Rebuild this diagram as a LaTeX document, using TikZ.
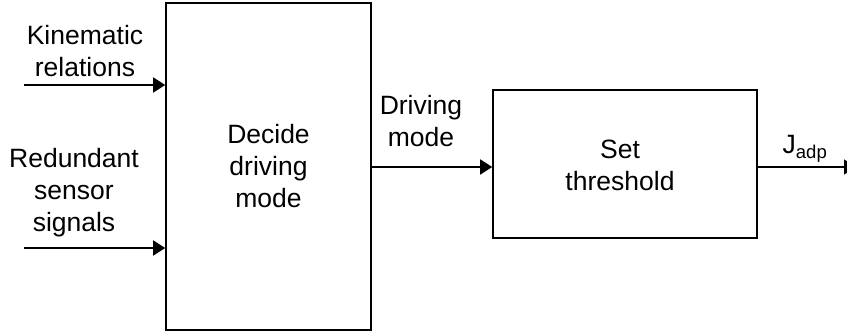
\documentclass[tikz,border=0pt]{standalone}
\usepackage{fontspec}
\setmainfont{Liberation Sans}
\usetikzlibrary{arrows.meta}
\begin{document}
\begin{tikzpicture}[x=1pt,y=-1pt,
  blk/.style={draw, line width=1.6pt, inner sep=0pt},
  lbl/.style={align=center, font=\fontsize{26.5}{32}\selectfont, inner sep=0pt},
  conn/.style={line width=1.6pt, -{Triangle[length=12pt,width=15pt]}}]
\useasboundingbox (0,0) rectangle (847,333);
\node[blk, minimum width=205pt, minimum height=327pt] (dec) at (268.5,166.5) {};
\node[blk, minimum width=264pt, minimum height=148pt] (thr) at (625,164) {};
\node[lbl] at (dec.center) {Decide\\driving\\mode};
\node[lbl] at (620,165) {Set\\threshold};
\coordinate (kin) at (24,85);
\coordinate (red) at (24,248);
\coordinate (mid) at (400,167);
\coordinate (out) at (856,167);
\node[lbl] (kinl) at (85,51) {Kinematic\\relations};
\node[lbl] (redl) at (74,193) {Redundant\\sensor\\signals};
\node[lbl] (drvl) at (421,121) {Driving\\mode};
\node[lbl] (jl) at (805,149) {J\textsubscript{adp}};
\draw[conn] (kin) -- (kin -| dec.west);
\draw[conn] (red) -- (red -| dec.west);
\draw[conn] (mid -| dec.east) -- (mid -| thr.west);
\draw[conn] (mid -| thr.east) -- (out);
\end{tikzpicture}
\end{document}
